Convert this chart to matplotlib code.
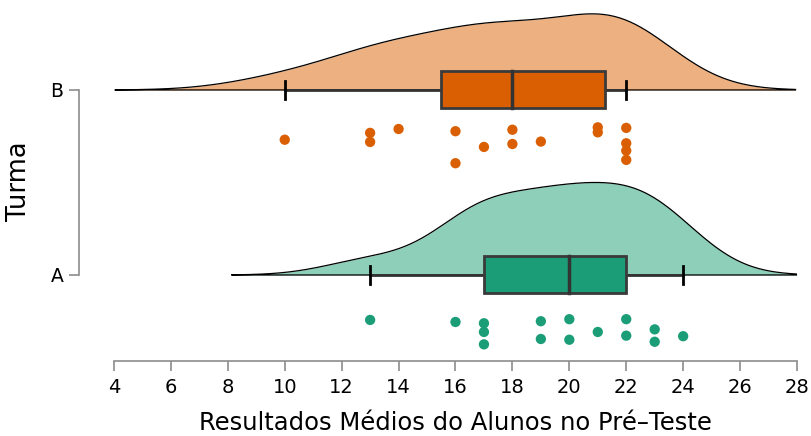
import numpy as np
import matplotlib
matplotlib.use("Agg")
import matplotlib.pyplot as plt

# data
groups = ["A", "B"]
turma_a = [13, 16, 17, 17, 17, 19, 19, 20, 20, 21, 22, 22, 23, 23, 24]
turma_b = [10, 13, 13, 14, 16, 16, 17, 18, 18, 19, 21, 21, 22, 22, 22, 22]
# vertical jitter of the dots (below the group line)
jit_a = [0.243, 0.254, 0.261, 0.308, 0.375, 0.250, 0.346, 0.239, 0.350,
         0.308, 0.239, 0.328, 0.294, 0.361, 0.331]
jit_b = [0.269, 0.232, 0.281, 0.211, 0.223, 0.396, 0.308, 0.215, 0.292,
         0.279, 0.202, 0.229, 0.205, 0.288, 0.328, 0.378]

fill_cols = ["#8ecfba", "#edb080"]
dark_cols = ["#1b9e77", "#d95f02"]


def kde(vals, grid):
    v = np.asarray(vals, float)
    n = len(v)
    iqr = np.subtract(*np.percentile(v, [75, 25]))
    bw = 0.9 * min(v.std(ddof=1), iqr / 1.34) * n ** -0.2
    d = np.exp(-0.5 * ((grid[:, None] - v[None, :]) / bw) ** 2).sum(1)
    return d / (n * bw * np.sqrt(2 * np.pi)), bw


fig = plt.figure(figsize=(8.12, 4.36), dpi=100)
ax = fig.add_axes([0.1404, 0.172, 0.8411, 0.805])

data = [turma_a, turma_b]
jits = [jit_a, jit_b]

dens = []
for vals in data:
    v = np.asarray(vals, float)
    _, bw = kde(vals, np.array([0.0]))
    g = np.linspace(max(v.min() - 3 * bw, 4), min(v.max() + 3 * bw, 28), 400)
    d, _ = kde(vals, g)
    dens.append((g, d))
scale = 0.5 / max(d.max() for _, d in dens)

for i, vals in enumerate(data):
    g, d = dens[i]
    y = i + d * scale
    ax.fill_between(g, i, y, color=fill_cols[i], lw=0, zorder=1)
    ax.plot(np.r_[g, g[::-1]], np.r_[y, np.full_like(g, i)], color="black",
            lw=0.9, zorder=2)

    v = np.asarray(vals, float)
    q1, med, q3 = np.percentile(v, [25, 50, 75])
    lo, hi = v.min(), v.max()
    ax.plot([lo, hi], [i, i], color="#333333", lw=2, zorder=3)
    ax.plot([lo, lo], [i - 0.05, i + 0.05], color="black", lw=2, zorder=3)
    ax.plot([hi, hi], [i - 0.05, i + 0.05], color="black", lw=2, zorder=3)
    ax.add_patch(plt.Rectangle((q1, i - 0.1), q3 - q1, 0.2,
                               facecolor=dark_cols[i], edgecolor="#3a3a3a",
                               lw=2, zorder=4))
    ax.plot([med, med], [i - 0.1, i + 0.1], color="#333333", lw=2.5, zorder=5)

    ax.scatter(v, i - np.asarray(jits[i]), s=55, color=dark_cols[i],
               edgecolors="none", zorder=4)

ax.set_xlim(4, 28)
ax.set_ylim(-0.465, 1.432)
ax.set_xticks(range(4, 29, 2))
ax.set_yticks([0, 1])
ax.set_yticklabels(groups)

for s in ["top", "right"]:
    ax.spines[s].set_visible(False)
ax.spines["left"].set_position(("outward", 25))
ax.spines["left"].set_bounds(0, 1)
ax.spines["bottom"].set_bounds(4, 28)
for s in ["left", "bottom"]:
    ax.spines[s].set_color("#8c8c8c")
    ax.spines[s].set_linewidth(1.2)
ax.tick_params(axis="x", direction="out", length=7.5, width=1.2,
               color="#8c8c8c", labelcolor="black", labelsize=14, pad=5)
ax.tick_params(axis="y", direction="out", length=7.5, width=1.2,
               color="#8c8c8c", labelcolor="black", labelsize=13.5, pad=4)

ax.set_xlabel("Resultados Médios do Alunos no Pré\u2013Teste", fontsize=17.5,
              labelpad=10)
ax.set_ylabel("Turma", fontsize=18.5)
ax.yaxis.set_label_coords(-0.12, 0.513)

fig.savefig("out.png", dpi=100)
